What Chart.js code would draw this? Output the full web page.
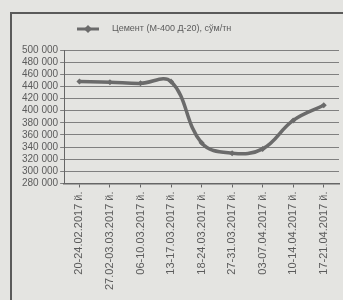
<!DOCTYPE html>
<html>
<head>
<meta charset="utf-8">
<script src="https://cdn.jsdelivr.net/npm/chart.js@4"></script>
<style>
  html, body { margin: 0; padding: 0; }
  body { width: 343px; height: 300px; background: #e4e4e1; position: relative; overflow: hidden; }
  .frame { position: absolute; left: 10px; top: 12px; width: 350px; height: 320px;
           border-left: 2px solid #5a5a5a; border-top: 2px solid #5a5a5a; }
  #wrap { position: absolute; left: 0; top: 0; width: 343px; height: 300px; }
</style>
</head>
<body>
<div class="frame"></div>
<div id="wrap"><canvas id="chart"></canvas></div>
<script>
// Цемент нархлари, ҳафталар бўйича
const weeks = [
  '20-24.02.2017 й.', '27.02-03.03.2017 й.', '06-10.03.2017 й.',
  '13-17.03.2017 й.', '18-24.03.2017 й.', '27-31.03.2017 й.',
  '03-07.04.2017 й.', '10-14.04.2017 й.', '17-21.04.2017 й.'
];
const cementPrice = [448000, 447000, 445000, 448000, 347000, 330000, 337000, 384000, 409000];
const seriesLabel = 'Цемент (М-400 Д-20), сўм/тн';
const yTicks = [280000, 300000, 320000, 340000, 360000, 380000, 400000,
                420000, 440000, 460000, 480000, 500000];

const ink = '#5c5c5c';
const fontFamily = "'Liberation Sans', Arial, sans-serif";

// легенда: чизиқ + маркер + матн
const legendPlugin = {
  id: 'simpleLegend',
  afterDraw(chart) {
    const ctx = chart.ctx;
    const ds = chart.data.datasets[0];
    const y = 29;
    ctx.save();
    ctx.strokeStyle = ds.borderColor;
    ctx.lineWidth = 3;
    ctx.beginPath(); ctx.moveTo(77, y); ctx.lineTo(99, y); ctx.stroke();
    ctx.fillStyle = ds.borderColor;
    ctx.beginPath();
    ctx.moveTo(88, y - 4); ctx.lineTo(92, y); ctx.lineTo(88, y + 4); ctx.lineTo(84, y);
    ctx.closePath(); ctx.fill();
    ctx.fillStyle = ink;
    ctx.font = '9px ' + fontFamily;
    ctx.textBaseline = 'middle';
    ctx.fillText(ds.label, 112, y);
    ctx.restore();
  }
};

new Chart(document.getElementById('chart'), {
  type: 'line',
  data: {
    labels: weeks,
    datasets: [{
      label: seriesLabel,
      data: cementPrice,
      borderColor: '#6b6b6b',
      backgroundColor: '#6b6b6b',
      borderWidth: 3.5,
      tension: 0.4,
      pointStyle: 'rectRot',
      pointRadius: 3,
      pointBorderWidth: 0
    }]
  },
  options: {
    responsive: true,
    maintainAspectRatio: false,
    animation: false,
    layout: { padding: { left: 20, right: 2, top: 50, bottom: 6 } },
    plugins: { legend: { display: false }, tooltip: { enabled: false } },
    scales: {
      x: {
        offset: true,
        grid: { display: true, drawOnChartArea: false, drawTicks: true, tickLength: 4, color: '#666' },
        border: { color: '#666', width: 1.5 },
        ticks: {
          color: ink, font: { family: fontFamily, size: 11 },
          minRotation: 90, maxRotation: 90, autoSkip: false, padding: 4
        }
      },
      y: {
        min: 280000,
        max: 500000,
        afterBuildTicks(axis) { axis.ticks = yTicks.map(v => ({ value: v })); },
        grid: { color: '#808080', lineWidth: 1, tickLength: 4 },
        border: { color: '#666', width: 1 },
        ticks: {
          color: ink, font: { family: fontFamily, size: 10 }, padding: 2, autoSkip: false,
          callback: v => String(v).replace(/\B(?=(\d{3})+(?!\d))/g, ' ')
        }
      }
    }
  },
  plugins: [legendPlugin]
});
</script>
</body>
</html>
